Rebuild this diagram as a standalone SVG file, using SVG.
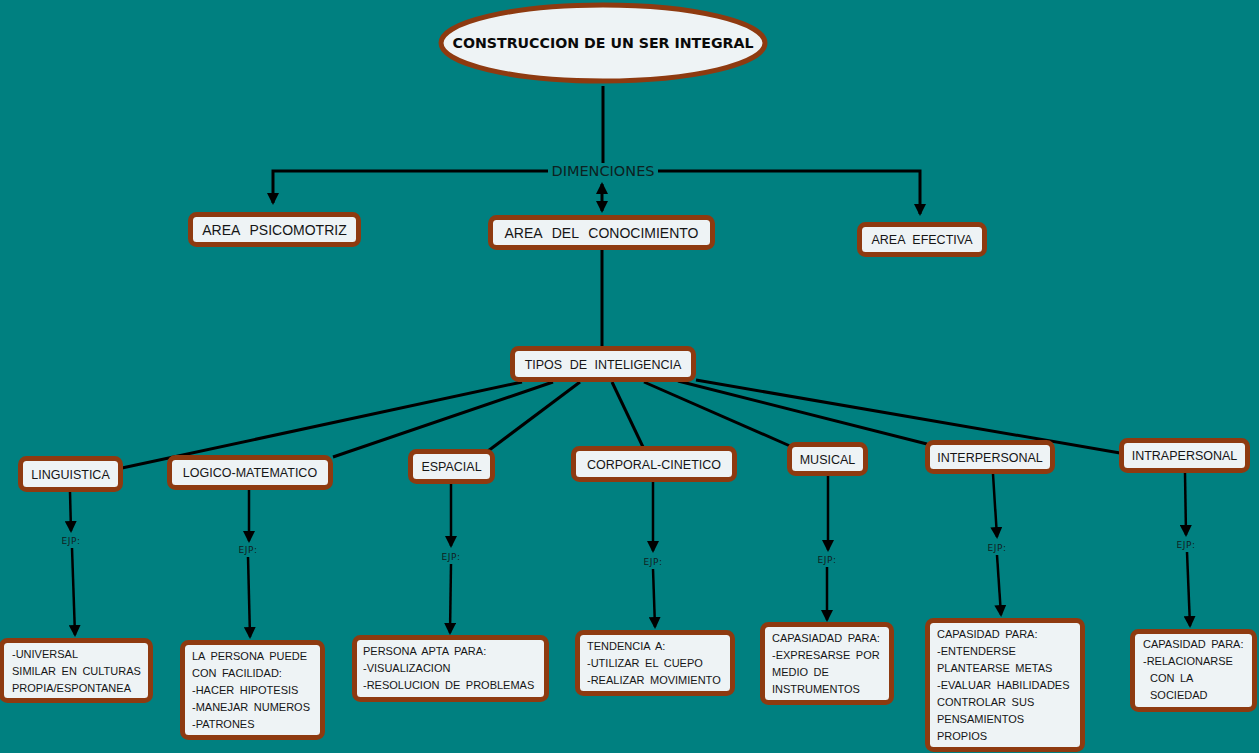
<svg xmlns="http://www.w3.org/2000/svg" width="1259" height="753" viewBox="0 0 1259 753">
<defs>
<style>
.box{fill:#eef3f5;stroke:#8e3a10;stroke-width:5}
.lbl{font-family:"Liberation Sans",Arial,sans-serif;font-size:12.5px;fill:#151515;text-anchor:middle;word-spacing:4px}
.big{font-size:14px;word-spacing:6px}
.txt{font-family:"Liberation Sans",Arial,sans-serif;font-size:11px;fill:#151515;word-spacing:2.5px}
.ejp{font-family:"DejaVu Sans",Verdana,sans-serif;font-size:9px;letter-spacing:0.6px;fill:#102020;text-anchor:middle}
.ln{stroke:#000;stroke-width:3;fill:none}
.ar{stroke:#000;stroke-width:2.5;fill:none;marker-end:url(#ah)}
</style>
<marker id="ah" viewBox="0 0 12 12" refX="10" refY="6" markerWidth="12" markerHeight="12" markerUnits="userSpaceOnUse" orient="auto-start-reverse">
<path d="M0,0 L12,6 L0,12 z" fill="#000"/>
</marker>
</defs>
<rect width="1259" height="753" fill="#008080"/>

<g id="connectors">
<line class="ln" x1="603" y1="86" x2="603" y2="163"/>
<polyline class="ln" points="548,171 273,171 273,203" marker-end="url(#ah)"/>
<polyline class="ln" points="658,171 920,171 920,214" marker-end="url(#ah)"/>
<line class="ln" x1="602" y1="184" x2="602" y2="211" stroke-width="2" marker-start="url(#ah)" marker-end="url(#ah)"/>
<line class="ln" x1="602" y1="250" x2="602" y2="346"/>
<line class="ln" x1="522" y1="382" x2="122" y2="468"/>
<line class="ln" x1="553" y1="382" x2="333" y2="457"/>
<line class="ln" x1="580" y1="382" x2="488" y2="451"/>
<line class="ln" x1="612" y1="382" x2="643" y2="447"/>
<line class="ln" x1="644" y1="382" x2="790" y2="446"/>
<line class="ln" x1="678" y1="381" x2="927" y2="444"/>
<line class="ln" x1="696" y1="380" x2="1120" y2="453"/>

<line class="ar" x1="70" y1="492" x2="71" y2="531"/>
<line class="ar" x1="72" y1="548" x2="75" y2="635"/>
<line class="ar" x1="249" y1="490" x2="249" y2="541"/>
<line class="ar" x1="248" y1="557" x2="250" y2="637"/>
<line class="ar" x1="451" y1="484" x2="451" y2="546"/>
<line class="ar" x1="451" y1="564" x2="450" y2="633"/>
<line class="ar" x1="653" y1="482" x2="653" y2="551"/>
<line class="ar" x1="653" y1="569" x2="655" y2="627"/>
<line class="ar" x1="828" y1="476" x2="828" y2="550"/>
<line class="ar" x1="827" y1="567" x2="827" y2="620"/>
<line class="ar" x1="993" y1="474" x2="997" y2="537"/>
<line class="ar" x1="997" y1="555" x2="1001" y2="615"/>
<line class="ar" x1="1185" y1="473" x2="1186" y2="535"/>
<line class="ar" x1="1187" y1="552" x2="1190" y2="626"/>

<text x="603" y="176" font-family="DejaVu Sans,Verdana,sans-serif" font-size="14" fill="#0d2222" text-anchor="middle" textLength="103" lengthAdjust="spacingAndGlyphs">DIMENCIONES</text>
<text class="ejp" x="71" y="544">EJP:</text>
<text class="ejp" x="248" y="553">EJP:</text>
<text class="ejp" x="451" y="560">EJP:</text>
<text class="ejp" x="653" y="565">EJP:</text>
<text class="ejp" x="827" y="563">EJP:</text>
<text class="ejp" x="997" y="551">EJP:</text>
<text class="ejp" x="1186" y="548">EJP:</text>
</g>

<g id="title">
<ellipse cx="603" cy="43" rx="162" ry="38" fill="#eef3f5" stroke="#8e3a10" stroke-width="5"/>
<text x="603" y="48" font-family="DejaVu Sans,Verdana,sans-serif" font-weight="bold" font-size="14" fill="#0a0a0a" text-anchor="middle" textLength="301" lengthAdjust="spacingAndGlyphs">CONSTRUCCION DE UN SER INTEGRAL</text>
</g>

<g id="area-psicomotriz">
<rect class="box" x="190.5" y="214.5" width="168" height="30" rx="6"/>
<text class="lbl big" x="274.5" y="234.5">AREA PSICOMOTRIZ</text>
</g>
<g id="area-conocimiento">
<rect class="box" x="490.5" y="217.5" width="222" height="30" rx="6"/>
<text class="lbl big" x="601.5" y="237.5">AREA DEL CONOCIMIENTO</text>
</g>
<g id="area-efectiva">
<rect class="box" x="859.5" y="224.5" width="125" height="30" rx="6"/>
<text class="lbl" x="922" y="244">AREA EFECTIVA</text>
</g>
<g id="tipos">
<rect class="box" x="512.5" y="348.5" width="181" height="31" rx="6"/>
<text class="lbl" x="603" y="368.5">TIPOS DE INTELIGENCIA</text>
</g>

<g id="linguistica">
<rect class="box" x="20.5" y="458.5" width="100" height="31" rx="6"/>
<text class="lbl" x="70.5" y="478.5">LINGUISTICA</text>
</g>
<g id="logico">
<rect class="box" x="169.5" y="457.5" width="161" height="30" rx="6"/>
<text class="lbl" x="250" y="477">LOGICO-MATEMATICO</text>
</g>
<g id="espacial">
<rect class="box" x="410.5" y="451.5" width="82" height="30" rx="6"/>
<text class="lbl" x="451.5" y="471">ESPACIAL</text>
</g>
<g id="corporal">
<rect class="box" x="573.5" y="448.5" width="161" height="31" rx="6"/>
<text class="lbl" x="654" y="468.5">CORPORAL-CINETICO</text>
</g>
<g id="musical">
<rect class="box" x="789.5" y="444.5" width="76" height="29" rx="6"/>
<text class="lbl" x="827.5" y="463.5">MUSICAL</text>
</g>
<g id="interpersonal">
<rect class="box" x="927.5" y="442.5" width="125" height="29" rx="6"/>
<text class="lbl" x="990" y="461.5">INTERPERSONAL</text>
</g>
<g id="intrapersonal">
<rect class="box" x="1121.5" y="440.5" width="126" height="30" rx="6"/>
<text class="lbl" x="1184.5" y="460">INTRAPERSONAL</text>
</g>

<g id="ling-ejemplo">
<rect class="box" x="1.5" y="640.5" width="149" height="60" rx="6"/>
<text class="txt" x="12" y="658">-UNIVERSAL</text>
<text class="txt" x="12" y="675">SIMILAR  EN  CULTURAS</text>
<text class="txt" x="12" y="692">PROPIA/ESPONTANEA</text>
</g>
<g id="logico-ejemplo">
<rect class="box" x="182.5" y="642.5" width="140" height="95" rx="6"/>
<text class="txt" x="192" y="660">LA  PERSONA  PUEDE</text>
<text class="txt" x="192" y="677">CON  FACILIDAD:</text>
<text class="txt" x="192" y="694">-HACER  HIPOTESIS</text>
<text class="txt" x="192" y="711">-MANEJAR  NUMEROS</text>
<text class="txt" x="192" y="728">-PATRONES</text>
</g>
<g id="espacial-ejemplo">
<rect class="box" x="354.5" y="637.5" width="192" height="62" rx="6"/>
<text class="txt" x="363" y="655">PERSONA  APTA  PARA:</text>
<text class="txt" x="363" y="672">-VISUALIZACION</text>
<text class="txt" x="363" y="689">-RESOLUCION  DE  PROBLEMAS</text>
</g>
<g id="corporal-ejemplo">
<rect class="box" x="577.5" y="632.5" width="155" height="61" rx="6"/>
<text class="txt" x="587" y="650">TENDENCIA  A:</text>
<text class="txt" x="587" y="667">-UTILIZAR  EL  CUEPO</text>
<text class="txt" x="587" y="684">-REALIZAR  MOVIMIENTO</text>
</g>
<g id="musical-ejemplo">
<rect class="box" x="762.5" y="624.5" width="129" height="78" rx="6"/>
<text class="txt" x="772" y="642">CAPASIADAD  PARA:</text>
<text class="txt" x="772" y="659">-EXPRESARSE  POR</text>
<text class="txt" x="772" y="676">MEDIO  DE</text>
<text class="txt" x="772" y="693">INSTRUMENTOS</text>
</g>
<g id="interpersonal-ejemplo">
<rect class="box" x="927.5" y="620.5" width="155" height="129" rx="6"/>
<text class="txt" x="937" y="638">CAPASIDAD  PARA:</text>
<text class="txt" x="937" y="655">-ENTENDERSE</text>
<text class="txt" x="937" y="672">PLANTEARSE  METAS</text>
<text class="txt" x="937" y="689">-EVALUAR  HABILIDADES</text>
<text class="txt" x="937" y="706">CONTROLAR  SUS</text>
<text class="txt" x="937" y="723">PENSAMIENTOS</text>
<text class="txt" x="937" y="740">PROPIOS</text>
</g>
<g id="intrapersonal-ejemplo">
<rect class="box" x="1132.5" y="631.5" width="122" height="78" rx="6"/>
<text class="txt" x="1143" y="648">CAPASIDAD  PARA:</text>
<text class="txt" x="1143" y="665">-RELACIONARSE</text>
<text class="txt" x="1150" y="682">CON  LA</text>
<text class="txt" x="1150" y="699">SOCIEDAD</text>
</g>
</svg>
